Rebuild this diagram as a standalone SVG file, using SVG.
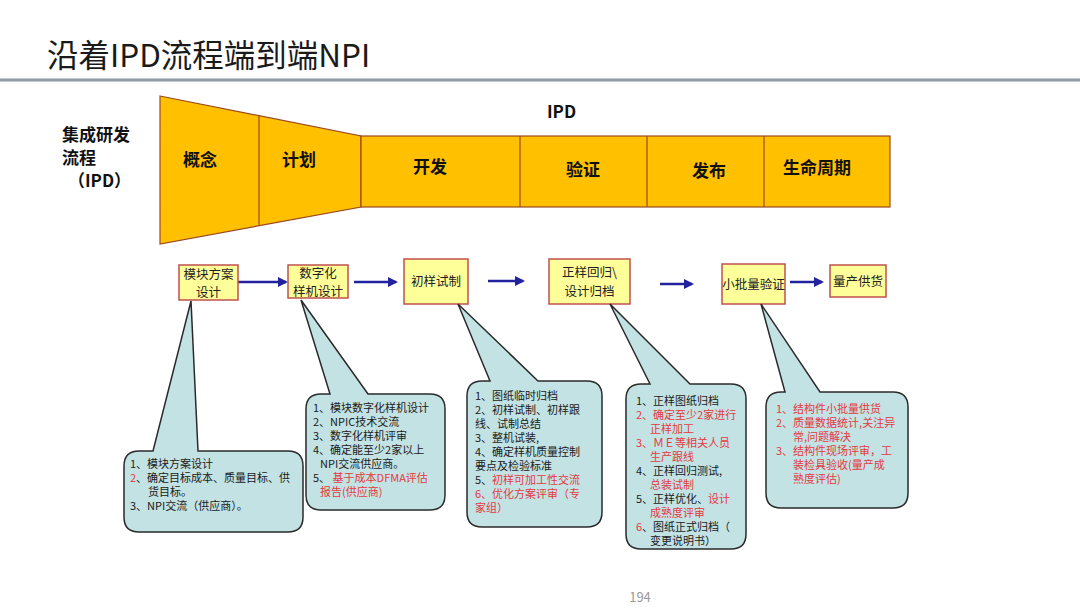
<svg xmlns="http://www.w3.org/2000/svg" width="1080" height="608" viewBox="0 0 1080 608">
<defs>
<style>
.t{font-family:"Noto Sans CJK SC","Liberation Sans",sans-serif;}
.title{font-size:31.5px;fill:#1a1a1a;}
.ph{font-size:17px;font-weight:bold;fill:#111;}
.fun{fill:#FFC000;stroke:#9A4A20;stroke-width:1.2;}
.box{fill:#FFFF99;stroke:#C0504D;stroke-width:1.5;}
.bt{font-size:12.5px;fill:#222;}
.co{fill:#C3E2E4;stroke:#2a2a2a;stroke-width:1.5;}
.ct{font-size:11px;fill:#1a1a1a;}
.r{fill:#E5393E;}
.arr{stroke:#22229E;stroke-width:2.5;fill:none;marker-end:url(#ah);}
</style>
<marker id="ah" viewBox="0 0 10 10" refX="8" refY="5" markerWidth="4" markerHeight="4" orient="auto" markerUnits="strokeWidth">
<path d="M0,0 L10,5 L0,10 z" fill="#22229E"/>
</marker>
</defs>
<rect width="1080" height="608" fill="#ffffff"/>
<g id="title">
<text class="t title" x="47" y="67">沿着IPD流程端到端NPI</text>
<rect x="0" y="78.5" width="1080" height="3" fill="#8D9AA0"/>
</g>
<g id="ipd-label">
<text class="t ph" x="62" y="141">集成研发</text>
<text class="t ph" x="62" y="164">流程</text>
<text class="t ph" x="68" y="187">（IPD）</text>
<text class="t ph" x="547" y="118">IPD</text>
</g>
<g id="funnel">
<polygon class="fun" points="160,96 361,136 361,207 160,244"/>
<line x1="259" y1="116" x2="259" y2="225" stroke="#9A4A20" stroke-width="1.2"/>
<rect class="fun" x="361" y="136" width="529" height="71"/>
<line x1="520" y1="136" x2="520" y2="207" stroke="#9A4A20" stroke-width="1.2"/>
<line x1="647" y1="136" x2="647" y2="207" stroke="#9A4A20" stroke-width="1.2"/>
<line x1="764" y1="136" x2="764" y2="207" stroke="#9A4A20" stroke-width="1.2"/>
<text class="t ph" x="183" y="166">概念</text>
<text class="t ph" x="282" y="166">计划</text>
<text class="t ph" x="413" y="173">开发</text>
<text class="t ph" x="566" y="176">验证</text>
<text class="t ph" x="692" y="177">发布</text>
<text class="t ph" x="783" y="174">生命周期</text>
</g>
<g id="connectors">
<line class="arr" x1="238" y1="282" x2="286" y2="282"/>
<line class="arr" x1="354" y1="282" x2="396" y2="282"/>
<line class="arr" x1="488" y1="281" x2="523" y2="281"/>
<line class="arr" x1="660" y1="284" x2="692" y2="284"/>
<line class="arr" x1="790" y1="282" x2="822" y2="282"/>
</g>
<g id="box1"><rect class="box" x="179" y="265" width="59" height="35"/>
<text class="t bt" x="208.5" y="279" text-anchor="middle">模块方案</text>
<text class="t bt" x="208.5" y="297" text-anchor="middle">设计</text></g>
<g id="box2"><rect class="box" x="288" y="265" width="60" height="33"/>
<text class="t bt" x="318" y="278" text-anchor="middle">数字化</text>
<text class="t bt" x="318" y="296" text-anchor="middle">样机设计</text></g>
<g id="box3"><rect class="box" x="404" y="259" width="64" height="45"/>
<text class="t bt" x="436" y="286" text-anchor="middle">初样试制</text></g>
<g id="box4"><rect class="box" x="549" y="259" width="81" height="45"/>
<text class="t bt" x="589.5" y="277" text-anchor="middle">正样回归\</text>
<text class="t bt" x="589.5" y="296" text-anchor="middle">设计归档</text></g>
<g id="box5"><rect class="box" x="722" y="264" width="63" height="40"/>
<text class="t bt" x="753.5" y="289" text-anchor="middle">小批量验证</text></g>
<g id="box6"><rect class="box" x="830" y="265" width="56" height="32"/>
<text class="t bt" x="858" y="286" text-anchor="middle">量产供货</text></g>

<g id="callout1">
<path class="co" d="M139,451 L153,451 L191,301 L198,451 L288,451 Q303,451 303,466 L303,517 Q303,532 288,532 L139,532 Q124,532 124,517 L124,466 Q124,451 139,451 Z"/>
<text class="t ct" x="130" y="468">1、模块方案设计</text>
<text class="t ct" x="130" y="482"><tspan class="r">2</tspan>、确定目标成本、质量目标、供</text>
<text class="t ct" x="148" y="496">货目标。</text>
<text class="t ct" x="130" y="510">3、NPI交流（供应商）。</text>
</g>
<g id="callout2">
<path class="co" d="M321,394 L330,394 L301,300 L368,394 L430,394 Q445,394 445,409 L445,495 Q445,510 430,510 L321,510 Q306,510 306,495 L306,409 Q306,394 321,394 Z"/>
<text class="t ct" x="313" y="412">1、模块数字化样机设计</text>
<text class="t ct" x="313" y="426">2、NPIC技术交流</text>
<text class="t ct" x="313" y="440">3、数字化样机评审</text>
<text class="t ct" x="313" y="454">4、确定能至少2家以上</text>
<text class="t ct" x="320" y="468">NPI交流供应商。</text>
<text class="t ct" x="313" y="482">5、 <tspan class="r">基于成本DFMA评估</tspan></text>
<text class="t ct r" x="320" y="496">报告(供应商)</text>
</g>
<g id="callout3">
<path class="co" d="M482,381 L490,381 L458,304 L538,381 L587,381 Q602,381 602,396 L602,512 Q602,527 587,527 L482,527 Q467,527 467,512 L467,396 Q467,381 482,381 Z"/>
<text class="t ct" x="475" y="400">1、图纸临时归档</text>
<text class="t ct" x="475" y="414">2、初样试制、初样跟</text>
<text class="t ct" x="475" y="428">线、试制总结</text>
<text class="t ct" x="475" y="442">3、整机试装,</text>
<text class="t ct" x="475" y="456">4、确定样机质量控制</text>
<text class="t ct" x="475" y="470">要点及检验标准</text>
<text class="t ct" x="475" y="484">5、<tspan class="r">初样可加工性交流</tspan></text>
<text class="t ct r" x="475" y="498">6、优化方案评审（专</text>
<text class="t ct r" x="475" y="512">家组）</text>
</g>
<g id="callout4">
<path class="co" d="M641,384 L650,384 L610,304 L690,384 L731,384 Q746,384 746,399 L746,534 Q746,549 731,549 L641,549 Q626,549 626,534 L626,399 Q626,384 641,384 Z"/>
<text class="t ct" x="636" y="405">1、正样图纸归档</text>
<text class="t ct r" x="636" y="419">2、确定至少2家进行</text>
<text class="t ct r" x="650" y="433">正样加工</text>
<text class="t ct r" x="636" y="447">3、ＭＥ等相关人员</text>
<text class="t ct r" x="650" y="461">生产跟线</text>
<text class="t ct" x="636" y="475">4、正样回归测试,</text>
<text class="t ct r" x="650" y="489">总装试制</text>
<text class="t ct" x="636" y="503">5、正样优化、<tspan class="r">设计</tspan></text>
<text class="t ct r" x="650" y="517">成熟度评审</text>
<text class="t ct" x="636" y="531"><tspan class="r">6</tspan>、图纸正式归档（</text>
<text class="t ct" x="650" y="545">变更说明书）</text>
</g>
<g id="callout5">
<path class="co" d="M781,392 L785,392 L761,304 L820,392 L893,392 Q908,392 908,407 L908,493 Q908,508 893,508 L781,508 Q766,508 766,493 L766,407 Q766,392 781,392 Z"/>
<text class="t ct r" x="776" y="413">1、结构件小批量供货</text>
<text class="t ct r" x="776" y="427">2、质量数据统计,关注异</text>
<text class="t ct r" x="793" y="441">常,问题解决</text>
<text class="t ct r" x="776" y="455">3、结构件现场评审，工</text>
<text class="t ct r" x="793" y="469">装检具验收(量产成</text>
<text class="t ct r" x="793" y="483">熟度评估)</text>
</g>
<g id="page"><text class="t" x="640" y="602" text-anchor="middle" font-size="13" fill="#9a9a9a">194</text></g>
</svg>
